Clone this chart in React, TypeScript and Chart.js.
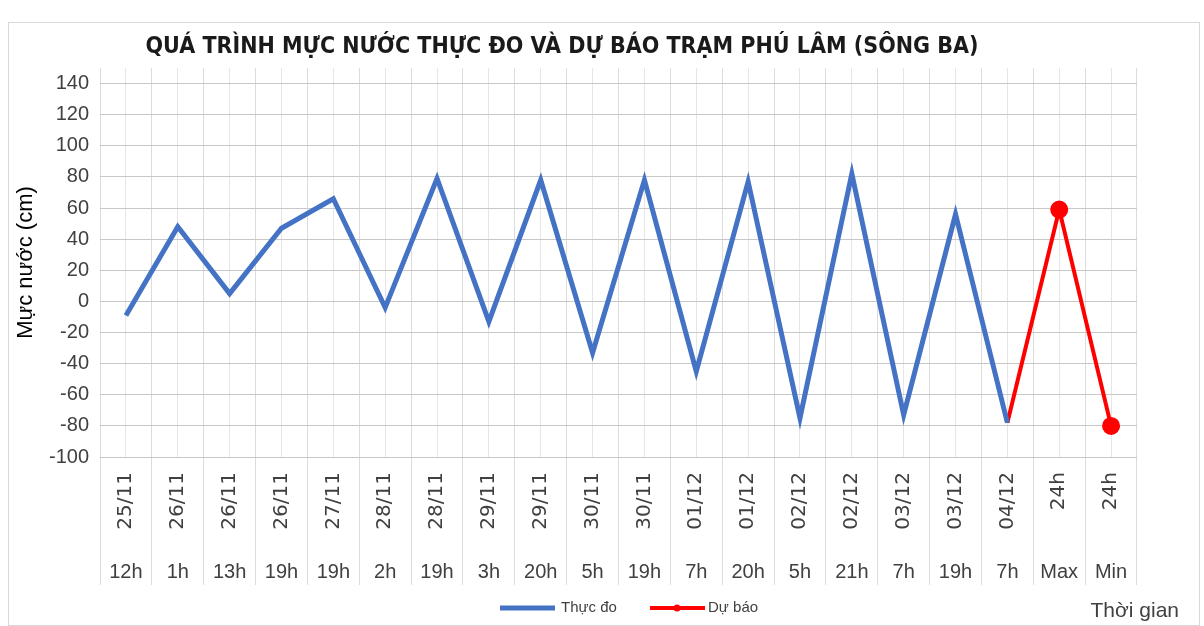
import React, { useEffect, useRef } from "react";
import { Chart, registerables } from "chart.js";

Chart.register(...registerables);

const dates = ["25/11", "26/11", "26/11", "26/11", "27/11", "28/11", "28/11", "29/11", "29/11", "30/11", "30/11", "01/12", "01/12", "02/12", "02/12", "03/12", "03/12", "04/12", "24h", "24h"];
const hours = ["12h", "1h", "13h", "19h", "19h", "2h", "19h", "3h", "20h", "5h", "19h", "7h", "20h", "5h", "21h", "7h", "19h", "7h", "Max", "Min"];
const observed = [-9, 48, 5, 47, 66, -4, 79, -13, 78, -33, 78, -45, 77, -75, 82, -73, 56, -78, null, null];
const forecast = [null, null, null, null, null, null, null, null, null, null, null, null, null, null, null, null, null, -78, 59, -80];
const forecastMarkers = [0, 0, 0, 0, 0, 0, 0, 0, 0, 0, 0, 0, 0, 0, 0, 0, 0, 0, 7, 7];
const yTicks = [-100, -80, -60, -40, -20, 0, 20, 40, 60, 80, 100, 120, 140];

const TITLE = "QUÁ TRÌNH MỰC NƯỚC THỰC ĐO VÀ DỰ BÁO TRẠM PHÚ LÂM (SÔNG BA)";
const Y_TITLE = "Mực nước (cm)";
const X_TITLE = "Thời gian";
const SERIES_NAMES = ["Thực đo", "Dự báo"];
const BLUE = "#4472C4";
const RED = "#FF0000";

const labelPlugin = {
  id: "twoRowLabels",
  afterDraw(chart: any) {
    const { ctx, chartArea, scales } = chart;
    const xs = scales.x;
    ctx.save();
    // title
    ctx.fillStyle = "#1a1a1a";
    ctx.font = 'bold 23px "DejaVu Sans Condensed", "Liberation Sans"';
    ctx.textAlign = "center";
    ctx.textBaseline = "middle";
    ctx.fillText(TITLE, 553, 24);
    ctx.fillStyle = "#404040";
    dates.forEach((d, i) => {
      const x = xs.getPixelForValue(i);
      ctx.save();
      ctx.translate(x, chartArea.bottom + 15);
      ctx.rotate(-Math.PI / 2);
      ctx.textAlign = "right";
      ctx.textBaseline = "middle";
      ctx.font = '20px "DejaVu Sans"';
      ctx.fillText(d, 0, 0);
      ctx.restore();
    });
    ctx.font = '20px "Liberation Sans"';
    ctx.textAlign = "center";
    ctx.textBaseline = "middle";
    hours.forEach((h, i) => {
      const x = xs.getPixelForValue(i);
      ctx.fillText(h, x, chartArea.bottom + 115);
    });
    // axis title (time)
    ctx.font = '21px "Liberation Sans"';
    ctx.textAlign = "right";
    ctx.fillText(X_TITLE, chart.width - 20, chart.height - 14);
    // legend
    const cx = chart.width / 2;
    const ly = chart.height - 17;
    ctx.lineCap = "butt";
    ctx.lineWidth = 5;
    ctx.strokeStyle = BLUE;
    ctx.beginPath();
    ctx.moveTo(cx - 104, ly);
    ctx.lineTo(cx - 49, ly);
    ctx.stroke();
    ctx.strokeStyle = RED;
    ctx.lineWidth = 4;
    ctx.beginPath();
    ctx.moveTo(cx + 46, ly);
    ctx.lineTo(cx + 101, ly);
    ctx.stroke();
    ctx.fillStyle = RED;
    ctx.beginPath();
    ctx.arc(cx + 73, ly, 3.5, 0, Math.PI * 2);
    ctx.fill();
    ctx.fillStyle = "#404040";
    ctx.font = '15px "Liberation Sans"';
    ctx.textAlign = "left";
    ctx.fillText(SERIES_NAMES[0], cx - 43, ly);
    ctx.fillText(SERIES_NAMES[1], cx + 104, ly);
    ctx.restore();
  },
};

export default function App() {
  const ref = useRef<HTMLCanvasElement>(null);
  useEffect(() => {
    const labels = dates.map((d, i) => d + " " + hours[i]);
    const chart = new Chart(ref.current as HTMLCanvasElement, {
      type: "line",
      data: {
        labels,
        datasets: [
          {
            label: SERIES_NAMES[0],
            data: observed,
            borderColor: BLUE,
            backgroundColor: BLUE,
            borderWidth: 5,
            pointRadius: 0,
            tension: 0,
          },
          {
            label: SERIES_NAMES[1],
            data: forecast,
            borderColor: RED,
            backgroundColor: RED,
            borderWidth: 4,
            pointRadius: forecastMarkers,
            pointBackgroundColor: RED,
            pointBorderColor: RED,
            tension: 0,
          },
        ],
      },
      options: {
        animation: false,
        responsive: true,
        maintainAspectRatio: false,
        layout: { padding: { left: 0, right: 62, top: 45, bottom: 40 } },
        plugins: {
          title: { display: false },
          legend: { display: false },
          tooltip: { enabled: false },
        },
        scales: {
          x: {
            type: "category",
            offset: true,
            grid: { offset: false, color: "#e6e6e6", drawTicks: false },
            border: { display: false },
            ticks: { display: false },
          },
          x2: {
            type: "category",
            position: "bottom",
            labels,
            offset: true,
            grid: { offset: true, color: "#dcdcdc", drawTicks: true, tickLength: 128 },
            border: { display: false },
            ticks: { display: false },
          },
          y: {
            min: -100,
            max: 150,
            afterBuildTicks(scale: any) {
              scale.ticks = yTicks.map((v) => ({ value: v }));
            },
            afterFit(scale: any) {
              scale.width = 91;
            },
            grid: { color: "#c8c8c8", drawTicks: false },
            border: { display: false },
            ticks: {
              color: "#404040",
              font: { family: '"Liberation Sans"', size: 20 },
              padding: 11,
            },
            title: {
              display: true,
              text: Y_TITLE,
              color: "#000",
              font: { family: '"Liberation Sans"', size: 22 },
              padding: { top: 4, bottom: 2 },
            },
          },
        },
      },
      plugins: [labelPlugin],
    } as any);
    return () => chart.destroy();
  }, []);
  return (
    <div
      style={{
        position: "absolute",
        left: 8,
        top: 22,
        width: 1192,
        height: 604,
        border: "1px solid #d9d9d9",
        boxSizing: "border-box",
        background: "#fff",
      }}
    >
      <div style={{ position: "relative", width: "100%", height: "100%" }}>
        <canvas ref={ref} />
      </div>
    </div>
  );
}
